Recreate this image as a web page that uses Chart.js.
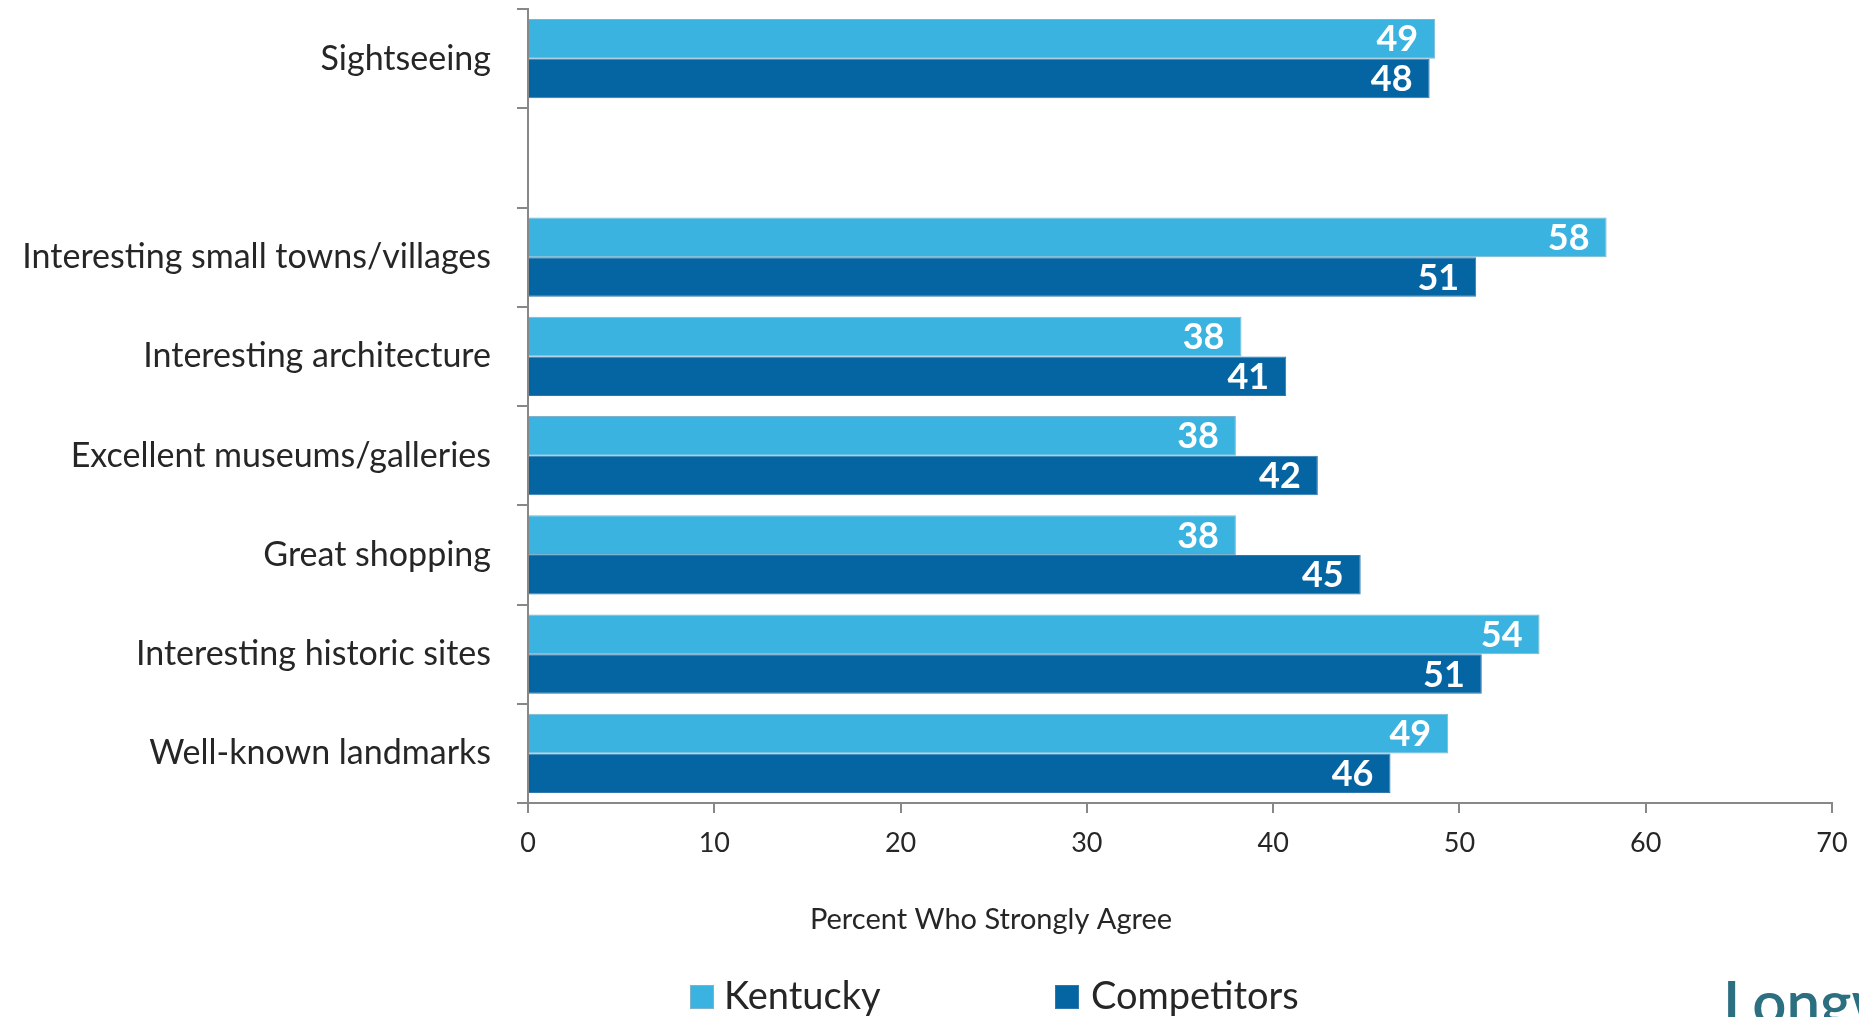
<!DOCTYPE html>
<html>
<head>
<meta charset="utf-8">
<script src="https://cdn.jsdelivr.net/npm/chart.js@4/dist/chart.umd.min.js"></script>
<style>
  html, body { margin: 0; padding: 0; background: #ffffff; }
  #wrap { width: 1859px; height: 1017px; position: relative; }
</style>
</head>
<body>
<div id="wrap"><canvas id="c" width="1859" height="1017"></canvas></div>
<script>
// ---- data ----
const categories = [
  "Sightseeing",
  "",
  "Interesting small towns/villages",
  "Interesting architecture",
  "Excellent museums/galleries",
  "Great shopping",
  "Interesting historic sites",
  "Well-known landmarks"
];
const seriesNames = ["Kentucky", "Competitors"];
const kentucky    = [48.7, null, 57.9, 38.3, 38.0, 38.0, 54.3, 49.4];
const competitors = [48.4, null, 50.9, 40.7, 42.4, 44.7, 51.2, 46.3];
const xTicks = [0, 10, 20, 30, 40, 50, 60, 70];
const axisTitle = "Percent Who Strongly Agree";
const logoText = "Longwoods";

// ---- styles ----
const colors = ["#3AB3E0", "#0565A3"];
const borderColors = ["#7FB2CC", "#2F78AE"];
const textColor = "#262626";
const axisColor = "#888888";
const FONT = "Lato, 'Open Sans', sans-serif";

const valueLabels = {
  id: "valueLabels",
  afterDatasetsDraw(chart) {
    const ctx = chart.ctx;
    ctx.save();
    ctx.font = "bold 36px " + FONT;
    ctx.fillStyle = "#ffffff";
    ctx.textAlign = "right";
    ctx.textBaseline = "middle";
    chart.data.datasets.forEach((ds, di) => {
      const meta = chart.getDatasetMeta(di);
      meta.data.forEach((bar, i) => {
        const v = ds.data[i];
        if (v === null || v === undefined) return;
        ctx.fillText(String(Math.round(v)), bar.x - 17, bar.y + 1);
      });
    });
    ctx.restore();
  }
};

const extras = {
  id: "extras",
  afterDraw(chart) {
    const ctx = chart.ctx;
    ctx.save();
    // axis title
    ctx.font = "29px " + FONT;
    ctx.fillStyle = textColor;
    ctx.textAlign = "center";
    ctx.textBaseline = "middle";
    ctx.fillText(axisTitle, 991, 920);
    // legend
    const items = [
      { box: 690, text: 724 },
      { box: 1055, text: 1091 }
    ];
    ctx.font = "38px " + FONT;
    ctx.textAlign = "left";
    items.forEach((it, i) => {
      ctx.fillStyle = colors[i];
      ctx.fillRect(it.box, 985, 24, 24);
      ctx.strokeStyle = borderColors[i];
      ctx.lineWidth = 1;
      ctx.strokeRect(it.box + 0.5, 985.5, 23, 23);
      ctx.fillStyle = textColor;
      ctx.fillText(seriesNames[i], it.text, 997);
    });
    // logo text (cut off at the edge as in the reference)
    ctx.font = "600 60px " + FONT;
    ctx.fillStyle = "#2B6F80";
    ctx.textBaseline = "alphabetic";
    ctx.fillText(logoText, 1723, 1024);
    ctx.restore();
  }
};

new Chart(document.getElementById("c"), {
  type: "bar",
  data: {
    labels: categories,
    datasets: [
      { label: seriesNames[0], data: kentucky, backgroundColor: colors[0],
        borderColor: borderColors[0], borderWidth: 1, borderSkipped: "start" },
      { label: seriesNames[1], data: competitors, backgroundColor: colors[1],
        borderColor: borderColors[1], borderWidth: 1, borderSkipped: "start" }
    ]
  },
  options: {
    indexAxis: "y",
    responsive: false,
    devicePixelRatio: 1,
    animation: false,
    layout: { padding: { top: 9, right: 27, bottom: 0, left: 0 } },
    datasets: { bar: { categoryPercentage: 0.8, barPercentage: 1.0 } },
    plugins: { legend: { display: false }, tooltip: { enabled: false }, title: { display: false } },
    scales: {
      x: {
        type: "linear",
        min: xTicks[0],
        max: xTicks[xTicks.length - 1],
        afterBuildTicks(scale) { scale.ticks = xTicks.map(v => ({ value: v })); },
        afterFit(scale) { scale.height = 214; scale.paddingLeft = 0; scale.paddingRight = 0; },
        ticks: { color: textColor, font: { family: FONT, size: 27 }, padding: 14, maxRotation: 0 },
        grid: { drawOnChartArea: false, drawTicks: true, tickLength: 10, color: axisColor, lineWidth: 2 },
        border: { display: true, color: axisColor, width: 2 }
      },
      y: {
        afterFit(scale) { scale.width = 528; scale.paddingTop = 0; scale.paddingBottom = 0; },
        ticks: { color: textColor, font: { family: FONT, size: 34 }, padding: 26, autoSkip: false },
        grid: { offset: true, drawOnChartArea: false, drawTicks: true, tickLength: 11, color: axisColor, lineWidth: 2 },
        border: { display: true, color: axisColor, width: 2 }
      }
    }
  },
  plugins: [valueLabels, extras]
});
</script>
</body>
</html>
